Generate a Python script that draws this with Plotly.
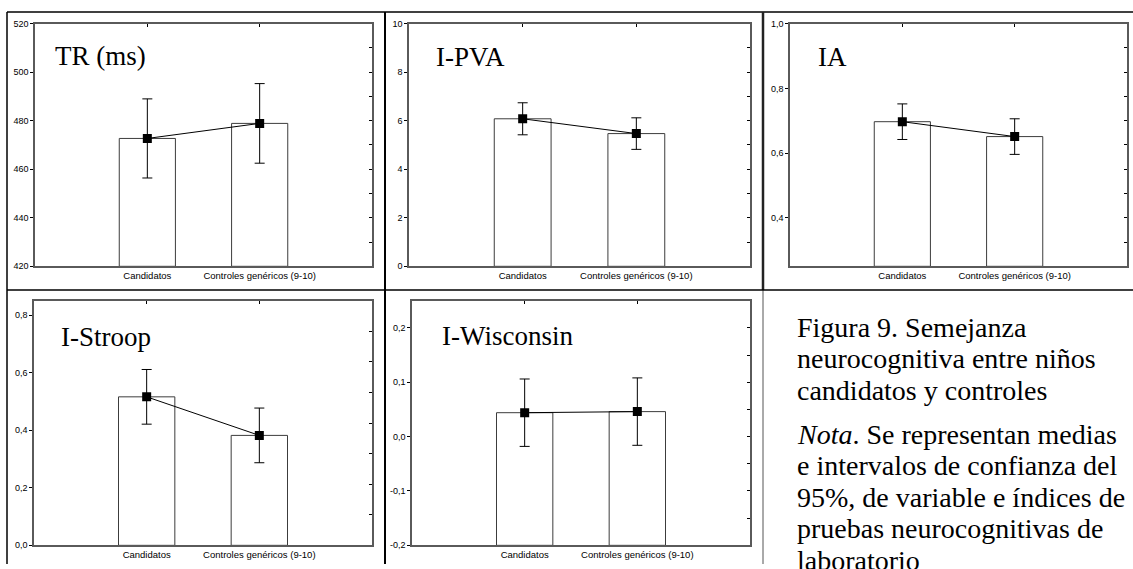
import plotly.graph_objects as go

W, H = 1133, 569

# Groups shown on every panel
categories = ["Candidatos", "Controles genéricos (9-10)"]

# Means and 95% CI half-widths per measure
tr_mean = [472.7, 478.9]
tr_ci = [16.3, 16.4]
pva_mean = [6.08, 5.47]
pva_ci = [0.66, 0.65]
ia_mean = [0.697, 0.651]
ia_ci = [0.055, 0.055]
stroop_mean = [0.516, 0.382]
stroop_ci = [0.095, 0.095]
wisc_mean = [0.044, 0.046]
wisc_ci = [0.062, 0.062]

# Y tick values and labels (decimal comma)
tr_ticks = [420, 440, 460, 480, 500, 520]
tr_labels = ["420", "440", "460", "480", "500", "520"]
pva_ticks = [0, 2, 4, 6, 8, 10]
pva_labels = ["0", "2", "4", "6", "8", "10"]
ia_ticks = [0.4, 0.6, 0.8, 1.0]
ia_labels = ["0,4", "0,6", "0,8", "1,0"]
stroop_ticks = [0.0, 0.2, 0.4, 0.6, 0.8]
stroop_labels = ["0,0", "0,2", "0,4", "0,6", "0,8"]
wisc_ticks = [-0.2, -0.1, 0.0, 0.1, 0.2]
wisc_labels = ["-0,2", "-0,1", "0,0", "0,1", "0,2"]

titles = ["TR (ms)", "I-PVA", "IA", "I-Stroop", "I-Wisconsin"]

caption_lines = [
    "Figura 9. Semejanza",
    "neurocognitiva entre niños",
    "candidatos y controles",
    "<i>Nota</i>. Se representan medias",
    "e intervalos de confianza del",
    "95%, de variable e índices de",
    "pruebas neurocognitivas de",
    "laboratorio",
]


def fx(p):
    return p / W


def fy(p):
    return 1 - p / H


# Panel geometry in pixels: plot box (left, right, top, bottom), title anchor,
# y range and step of the inner right-hand ticks
panels = [
    dict(mean=tr_mean, ci=tr_ci, ticks=tr_ticks, labels=tr_labels,
         box=(35, 372, 19, 266), title=(53, 52), yr=(420, 520), minor=10),
    dict(mean=pva_mean, ci=pva_ci, ticks=pva_ticks, labels=pva_labels,
         box=(409, 750, 19, 266), title=(434, 53), yr=(0, 10), minor=1),
    dict(mean=ia_mean, ci=ia_ci, ticks=ia_ticks, labels=ia_labels,
         box=(790, 1127, 19, 266), title=(816, 53), yr=(0.25, 1.0), minor=0.075),
    dict(mean=stroop_mean, ci=stroop_ci, ticks=stroop_ticks, labels=stroop_labels,
         box=(34, 372, 301, 550), title=(59, 338), yr=(0.0, 0.85), minor=0.10625),
    dict(mean=wisc_mean, ci=wisc_ci, ticks=wisc_ticks, labels=wisc_labels,
         box=(412, 750, 301, 550), title=(440, 337), yr=(-0.2, 0.25), minor=0.05),
]

FRAME = "#5a5a5a"
SANS = "Liberation Sans, Arial, sans-serif"
SERIF = "Liberation Serif, Times New Roman, serif"

fig = go.Figure()
layout = dict(
    width=W, height=H,
    margin=dict(l=0, r=0, t=0, b=0),
    paper_bgcolor="white", plot_bgcolor="white",
    showlegend=False, hovermode=False,
    annotations=[], shapes=[],
)

n = len(panels)
for i, p in enumerate(panels):
    k = i + 1
    sx = "" if k == 1 else str(k)
    xa, ya = "x" + sx, "y" + sx
    ko = str(k + n)
    ymin, ymax = p["yr"]
    l, r, t, b = p["box"]

    fig.add_trace(go.Bar(
        x=categories, y=[m - ymin for m in p["mean"]], base=ymin, width=0.5,
        marker=dict(color="white", line=dict(color="#3c3c3c", width=1)),
        xaxis=xa, yaxis=ya,
    ))
    fig.add_trace(go.Scatter(
        x=categories, y=p["mean"], mode="lines+markers",
        line=dict(color="black", width=1),
        marker=dict(symbol="square", size=9, color="black"),
        error_y=dict(type="data", array=p["ci"], color="black", thickness=1, width=5),
        xaxis=xa, yaxis=ya,
    ))
    # transparent copy of the means so the tick-only overlay axes get drawn
    fig.add_trace(go.Scatter(
        x=list(range(len(categories))), y=p["mean"], mode="markers",
        marker=dict(size=1, opacity=0), hoverinfo="skip",
        xaxis="x" + ko, yaxis="y" + ko,
    ))

    layout["xaxis" + sx] = dict(
        domain=[fx(l), fx(r)], anchor=ya, type="category", range=[-1, 2],
        showline=True, mirror=True, linecolor=FRAME, linewidth=1.5,
        ticks="", showgrid=False, zeroline=False,
        tickfont=dict(family=SANS, size=9.5, color="black"),
    )
    layout["yaxis" + sx] = dict(
        domain=[fy(b), fy(t)], anchor=xa, range=[ymin, ymax],
        tickmode="array", tickvals=p["ticks"], ticktext=p["labels"],
        ticks="outside", ticklen=3, tickcolor="black", tickwidth=1,
        showline=True, mirror=True, linecolor=FRAME, linewidth=1.5,
        showgrid=False, zeroline=False,
        tickfont=dict(family=SANS, size=9, color="black"),
    )
    # inner ticks on the right-hand edge
    layout["yaxis" + ko] = dict(
        overlaying=ya, side="right", anchor="x" + ko, range=[ymin, ymax],
        tickmode="linear", tick0=ymin, dtick=p["minor"],
        ticks="inside", ticklen=3, tickcolor="black", tickwidth=1,
        showticklabels=False, showline=False, showgrid=False, zeroline=False,
    )
    # inner ticks on the top edge at the group positions
    layout["xaxis" + ko] = dict(
        overlaying=xa, side="top", anchor="y" + ko, type="linear", range=[-1, 2],
        tickmode="array", tickvals=[0, 1],
        ticks="inside", ticklen=3, tickcolor="black", tickwidth=1,
        showticklabels=False, showline=False, showgrid=False, zeroline=False,
    )

    tx, ty = p["title"]
    layout["annotations"].append(dict(
        text=titles[i], x=fx(tx), y=fy(ty), xref="paper", yref="paper",
        xanchor="left", yanchor="middle", showarrow=False,
        font=dict(family=SERIF, size=27, color="black"),
    ))

# caption in the last cell
cap_y = [328, 360, 392, 437, 469, 501, 533, 565]
for line, cy in zip(caption_lines, cap_y):
    layout["annotations"].append(dict(
        text=line, x=fx(795), y=fy(cy), xref="paper", yref="paper",
        xanchor="left", yanchor="middle", showarrow=False,
        font=dict(family=SERIF, size=28, color="black"),
    ))

# table grid around the panels
def seg(x0, y0, x1, y1, w=1.5, c="black"):
    return dict(type="line", xref="paper", yref="paper",
                x0=fx(x0), y0=fy(y0), x1=fx(x1), y1=fy(y1),
                line=dict(color=c, width=w))

layout["shapes"] += [
    seg(7, 7, W, 7),
    seg(7, 7, 7, H),
    seg(385, 7, 385, H, 2),
    seg(763, 7, 763, 290, 2.5, "#222222"),
    seg(763, 290, 763, H, 1, "#555555"),
    seg(7, 290, W, 290, 1.5),
]

fig.update_layout(**layout)
fig.write_html("out.html")
